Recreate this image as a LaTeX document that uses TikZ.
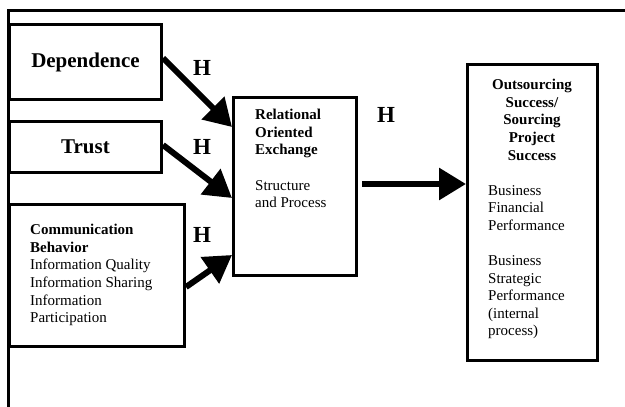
\documentclass[tikz,border=0pt]{standalone}
\usepackage{fontspec}
\setmainfont{Liberation Serif}
\usetikzlibrary{arrows.meta,calc}
\begin{document}
\begin{tikzpicture}[x=1pt,y=-1pt,
  box/.style={draw,line width=3pt,rectangle,inner sep=0pt},
  bigtxt/.style={font=\fontsize{21}{23}\selectfont\bfseries},
  smalltxt/.style={font=\fontsize{15}{17.6}\selectfont,align=left,inner sep=0pt},
  hlab/.style={font=\fontsize{23}{24}\selectfont\bfseries,inner sep=0pt},
  bigarrow/.style={line width=6pt,-{Triangle[length=27pt,width=31pt]}}]
\useasboundingbox (0,0) rectangle (625,407);
% partial frame
\draw[line width=3pt] (8,407) -- (8,10) -- (625,10);
% boxes
\node[box,minimum width=152pt,minimum height=75pt,bigtxt] (dep) at (85.5,62) {Dependence};
\node[box,minimum width=152pt,minimum height=51pt,bigtxt] (trust) at (85.5,147) {Trust};
\node[box,minimum width=175pt,minimum height=142pt] (comm) at (97,275.5) {};
\node[smalltxt,anchor=north west] (commtext) at (30,224) {\textbf{Communication}\\\textbf{Behavior}\\Information Quality\\Information Sharing\\Information\\Participation};
\node[box,minimum width=123pt,minimum height=178pt] (rel) at (295,186.5) {};
\node[smalltxt,anchor=north west] (reltext) at (255,109) {\textbf{Relational}\\\textbf{Oriented}\\\textbf{Exchange}\\[17.6pt]Structure\\and Process};
\node[box,minimum width=130pt,minimum height=296pt] (out) at (532.5,212.5) {};
\node[smalltxt,align=center,anchor=north] (outtitle) at (532,79) {\textbf{Outsourcing}\\\textbf{Success/}\\\textbf{Sourcing}\\\textbf{Project}\\\textbf{Success}};
\node[smalltxt,anchor=north west] (outtext) at (488,185) {Business\\Financial\\Performance\\[17.6pt]Business\\Strategic\\Performance\\(internal\\process)};
% arrows
\coordinate (hstart) at ([xshift=4pt,yshift=2.5pt]rel.east);
\draw[bigarrow] ([yshift=4pt]dep.east) -- ([yshift=-31pt]rel.north west);
\draw[bigarrow] ([yshift=2pt]trust.east) -- ([yshift=-102pt]rel.north west);
\draw[bigarrow] ([yshift=-84pt]comm.north east) -- ([yshift=-159pt]rel.north west);
\draw[bigarrow] (hstart) -- (hstart -| out.west);
% H labels
\node[hlab] (h1) at (202,68) {H};
\node[hlab] (h2) at (202,147) {H};
\node[hlab] (h3) at (202,235) {H};
\node[hlab] (h4) at (386,115) {H};
\end{tikzpicture}
\end{document}
